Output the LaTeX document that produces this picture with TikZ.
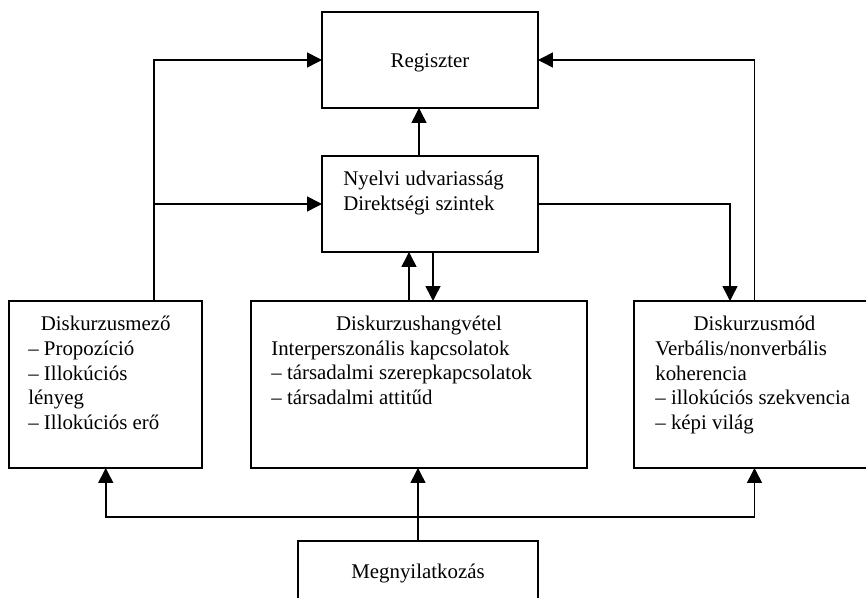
\documentclass[tikz,border=0pt]{standalone}
\usepackage{fontspec}
\setmainfont{Liberation Serif}
\usetikzlibrary{arrows.meta,calc}
\begin{document}
\begin{tikzpicture}[x=0.575pt,y=-0.575pt,
  box/.style={draw, line width=1.1pt, inner sep=0pt, outer sep=0pt},
  conn/.style={line width=0.9pt, -{Triangle[length=8.6pt,width=8.6pt]}},
  txt/.style={inner sep=0pt, font=\fontsize{12}{14.2}\selectfont, align=left},
]
\fill[white] (0,0) rectangle (866,598);
\clip (0,0) rectangle (866,598);

% boxes
\node[box, minimum width=216*0.575pt, minimum height=96*0.575pt] (reg) at (430,60) {};
\node[box, minimum width=216*0.575pt, minimum height=96*0.575pt] (nyelv) at (430,204) {};
\node[box, minimum width=193*0.575pt, minimum height=167*0.575pt] (mezo) at (105.75,384.5) {};
\node[box, minimum width=336*0.575pt, minimum height=167*0.575pt] (hang) at (419,384.5) {};
\node[box, minimum width=241*0.575pt, minimum height=167*0.575pt] (mod) at (754.5,384.5) {};
\node[box, minimum width=240*0.575pt, minimum height=64*0.575pt] (meg) at (418,573) {};

% texts (multi-line nodes: base anchor = baseline of the last line)
\node[txt, anchor=base] (regT) at (430,68) {Regiszter};
\node[txt, anchor=base west] (nyT) at (343,210.7) {Nyelvi udvariasság\\Direktségi szintek};
\node[txt, anchor=base] (mezoT) at (105.75,330.7) {Diskurzusmező};
\node[txt, anchor=base west] (mezoB) at (28,429.6) {– Propozíció\\– Illokúciós\\lényeg\\– Illokúciós erő};
\node[txt, anchor=base] (hangT) at (419,330.7) {Diskurzushangvétel};
\node[txt, anchor=base west] (hangB) at (271,404.5) {Interperszonális kapcsolatok\\– társadalmi szerepkapcsolatok\\– társadalmi attitűd};
\node[txt, anchor=base] (modT) at (754.5,330.5) {Diskurzusmód};
\node[txt, anchor=base west] (modB) at (655,429.4) {Verbális/nonverbális\\koherencia\\– illokúciós szekvencia\\– képi világ};
\node[txt, anchor=base] (megT) at (418,579) {Megnyilatkozás};

% routing coordinates
\coordinate (lx) at (154,0);
\coordinate (mx) at (419,0);
\coordinate (rx) at (730,0);
\coordinate (upx) at (409,0);
\coordinate (dnx) at (433,0);
\coordinate (by) at (0,517);

% connectors
\draw[conn] (lx |- mezo.north) |- (reg.west);
\draw[conn] (lx |- nyelv.west) -- (nyelv.west);
\draw[conn] (mx |- nyelv.north) -- (mx |- reg.south);
\draw[conn] (nyelv.east) -| (rx |- mod.north);
\draw[conn] (mod.north) |- (reg.east);
\draw[conn] (upx |- hang.north) -- (upx |- nyelv.south);
\draw[conn] (dnx |- nyelv.south) -- (dnx |- hang.north);
\draw[conn] (meg.north) -- (meg.north |- hang.south);
\draw[conn] (meg.north |- by) -| (mezo.south);
\draw[conn] (meg.north |- by) -| (mod.south);
\end{tikzpicture}
\end{document}
